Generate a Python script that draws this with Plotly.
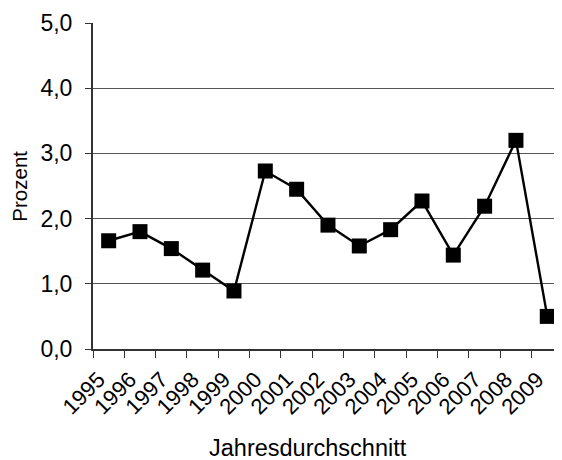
import plotly.graph_objects as go

years = ["1995", "1996", "1997", "1998", "1999", "2000", "2001", "2002",
         "2003", "2004", "2005", "2006", "2007", "2008", "2009"]
values = [1.66, 1.80, 1.54, 1.21, 0.89, 2.73, 2.45, 1.90,
          1.58, 1.83, 2.27, 1.44, 2.19, 3.20, 0.50]
y_ticks = [0, 1, 2, 3, 4, 5]
y_ticktext = ["0,0", "1,0", "2,0", "3,0", "4,0", "5,0"]
x_title = "Jahresdurchschnitt"
y_title = "Prozent"

FONT = "Liberation Sans, Arial, sans-serif"

# page has an 8px body margin; figure is 554x452 so it ends at the window edge
fig = go.Figure()
fig.add_trace(go.Scatter(
    x=years, y=values, mode="lines+markers",
    line=dict(color="black", width=2.4),
    marker=dict(symbol="square", size=15, color="black"),
    cliponaxis=False, showlegend=False,
))

fig.update_layout(
    width=554, height=452,
    margin=dict(l=85, r=0, t=15, b=111, autoexpand=False),
    paper_bgcolor="white", plot_bgcolor="white",
    font=dict(family=FONT, color="black"),
    xaxis=dict(
        type="category", range=[-0.5, 14.47], automargin=False,
        tickson="boundaries", ticks="outside", ticklen=7, tickwidth=1.2,
        tickcolor="#333", showline=True, linecolor="#333", linewidth=2,
        showgrid=False, tickangle=-45, tickfont=dict(size=22),
        ticklabelshift=-10, ticklabelstandoff=7,
    ),
    yaxis=dict(
        range=[0, 5], tickvals=y_ticks, ticktext=y_ticktext, automargin=False,
        ticks="outside", ticklen=6, tickwidth=1.2, tickcolor="#333",
        showline=True, linecolor="#333", linewidth=2,
        showgrid=True, gridcolor="#555", gridwidth=1,
        tickfont=dict(size=23), ticklabelstandoff=8, zeroline=False,
    ),
    annotations=[
        dict(text=x_title, xref="paper", yref="paper", x=0.458, y=-0.305,
             xanchor="center", yanchor="middle", showarrow=False,
             font=dict(size=23.5, family=FONT)),
        dict(text=y_title, xref="paper", yref="paper", x=-0.1585, y=0.5,
             xanchor="center", yanchor="middle", showarrow=False, textangle=-90,
             font=dict(size=20.5, family=FONT)),
    ],
)

fig.write_html("out.html")
